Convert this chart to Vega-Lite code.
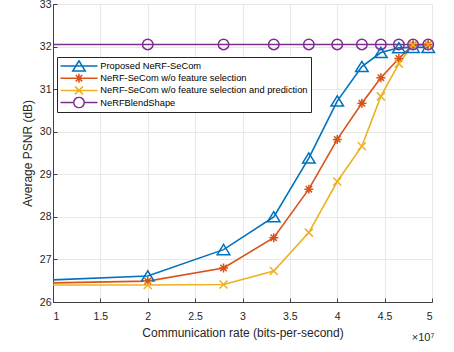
{
  "$schema": "https://vega.github.io/schema/vega-lite/v6.json",
  "autosize": {"type": "none"},
  "width": 379,
  "height": 298,
  "padding": {"left": 53, "top": 4, "right": 22, "bottom": 50},
  "background": "white",
  "config": {
    "font": "Liberation Sans",
    "view": {"stroke": "#d9d9d9", "strokeWidth": 1},
    "axis": {
      "labelFont": "Liberation Sans",
      "titleFont": "Liberation Sans",
      "labelFontSize": 10.5,
      "titleFontSize": 12,
      "titleFontWeight": "normal",
      "labelColor": "#262626",
      "titleColor": "#262626",
      "domainColor": "#404040",
      "tickColor": "#404040",
      "tickSize": -4,
      "gridColor": "#e8e8e8",
      "gridWidth": 1
    }
  },
  "title": {
    "text": "×10⁷",
    "orient": "bottom",
    "anchor": "end",
    "fontSize": 11,
    "fontWeight": "normal",
    "color": "#262626",
    "offset": -7,
    "dx": -3
  },
  "data": {
    "values": [
      {"series": "Proposed NeRF-SeCom", "rate": 10000000, "psnr": 26.52},
      {"series": "Proposed NeRF-SeCom", "rate": 20000000, "psnr": 26.61},
      {"series": "Proposed NeRF-SeCom", "rate": 28000000, "psnr": 27.23},
      {"series": "Proposed NeRF-SeCom", "rate": 33300000, "psnr": 28.0},
      {"series": "Proposed NeRF-SeCom", "rate": 37000000, "psnr": 29.38},
      {"series": "Proposed NeRF-SeCom", "rate": 40000000, "psnr": 30.72},
      {"series": "Proposed NeRF-SeCom", "rate": 42600000, "psnr": 31.53},
      {"series": "Proposed NeRF-SeCom", "rate": 44600000, "psnr": 31.86},
      {"series": "Proposed NeRF-SeCom", "rate": 46500000, "psnr": 31.97},
      {"series": "Proposed NeRF-SeCom", "rate": 48000000, "psnr": 31.98},
      {"series": "Proposed NeRF-SeCom", "rate": 49600000, "psnr": 31.98},
      {"series": "NeRF-SeCom w/o feature selection", "rate": 10000000, "psnr": 26.45},
      {"series": "NeRF-SeCom w/o feature selection", "rate": 20000000, "psnr": 26.49},
      {"series": "NeRF-SeCom w/o feature selection", "rate": 28000000, "psnr": 26.8},
      {"series": "NeRF-SeCom w/o feature selection", "rate": 33300000, "psnr": 27.51},
      {"series": "NeRF-SeCom w/o feature selection", "rate": 37000000, "psnr": 28.65},
      {"series": "NeRF-SeCom w/o feature selection", "rate": 40000000, "psnr": 29.82},
      {"series": "NeRF-SeCom w/o feature selection", "rate": 42600000, "psnr": 30.67},
      {"series": "NeRF-SeCom w/o feature selection", "rate": 44600000, "psnr": 31.27},
      {"series": "NeRF-SeCom w/o feature selection", "rate": 46500000, "psnr": 31.72},
      {"series": "NeRF-SeCom w/o feature selection", "rate": 48000000, "psnr": 32.04},
      {"series": "NeRF-SeCom w/o feature selection", "rate": 49600000, "psnr": 32.05},
      {"series": "NeRF-SeCom w/o feature selection and prediction", "rate": 10000000, "psnr": 26.4},
      {"series": "NeRF-SeCom w/o feature selection and prediction", "rate": 20000000, "psnr": 26.4},
      {"series": "NeRF-SeCom w/o feature selection and prediction", "rate": 28000000, "psnr": 26.41},
      {"series": "NeRF-SeCom w/o feature selection and prediction", "rate": 33300000, "psnr": 26.73},
      {"series": "NeRF-SeCom w/o feature selection and prediction", "rate": 37000000, "psnr": 27.63},
      {"series": "NeRF-SeCom w/o feature selection and prediction", "rate": 40000000, "psnr": 28.83},
      {"series": "NeRF-SeCom w/o feature selection and prediction", "rate": 42600000, "psnr": 29.66},
      {"series": "NeRF-SeCom w/o feature selection and prediction", "rate": 44600000, "psnr": 30.83},
      {"series": "NeRF-SeCom w/o feature selection and prediction", "rate": 46500000, "psnr": 31.6},
      {"series": "NeRF-SeCom w/o feature selection and prediction", "rate": 48000000, "psnr": 32.04},
      {"series": "NeRF-SeCom w/o feature selection and prediction", "rate": 49600000, "psnr": 32.05},
      {"series": "NeRFBlendShape", "rate": 10000000, "psnr": 32.05},
      {"series": "NeRFBlendShape", "rate": 20000000, "psnr": 32.05},
      {"series": "NeRFBlendShape", "rate": 28000000, "psnr": 32.05},
      {"series": "NeRFBlendShape", "rate": 33300000, "psnr": 32.05},
      {"series": "NeRFBlendShape", "rate": 37000000, "psnr": 32.05},
      {"series": "NeRFBlendShape", "rate": 40000000, "psnr": 32.05},
      {"series": "NeRFBlendShape", "rate": 42600000, "psnr": 32.05},
      {"series": "NeRFBlendShape", "rate": 44600000, "psnr": 32.05},
      {"series": "NeRFBlendShape", "rate": 46500000, "psnr": 32.05},
      {"series": "NeRFBlendShape", "rate": 48000000, "psnr": 32.05},
      {"series": "NeRFBlendShape", "rate": 49600000, "psnr": 32.05}
    ]
  },
  "encoding": {
    "x": {
      "field": "rate",
      "type": "quantitative",
      "scale": {"domain": [10000000, 50000000], "nice": false, "zero": false},
      "axis": {
        "title": "Communication rate (bits-per-second)",
        "values": [10000000, 15000000, 20000000, 25000000, 30000000, 35000000, 40000000, 45000000, 50000000],
        "labelExpr": "format(datum.value / 10000000, '~g')",
        "labelPadding": 13,
        "titlePadding": 6
      }
    },
    "y": {
      "field": "psnr",
      "type": "quantitative",
      "scale": {"domain": [26, 33], "nice": false, "zero": false},
      "axis": {
        "title": "Average PSNR (dB)",
        "values": [26, 27, 28, 29, 30, 31, 32, 33],
        "labelPadding": 6,
        "titlePadding": 5
      }
    }
  },
  "layer": [
    {
      "mark": {"type": "line", "strokeWidth": 1.6},
      "encoding": {
        "color": {
          "field": "series",
          "type": "nominal",
          "scale": {
            "domain": ["Proposed NeRF-SeCom", "NeRF-SeCom w/o feature selection", "NeRF-SeCom w/o feature selection and prediction", "NeRFBlendShape"],
            "range": ["#0072BD", "#D95319", "#EDB120", "#7E2F8E"]
          },
          "legend": {
            "title": null,
            "orient": "none",
            "legendX": 4,
            "legendY": 53,
            "padding": 3,
            "strokeColor": "#262626",
            "fillColor": "white",
            "cornerRadius": 0,
            "labelFont": "Liberation Sans",
            "labelFontSize": 9.3,
            "labelColor": "#000000",
            "labelLimit": 400,
            "clipHeight": 12,
            "rowPadding": 0.2,
            "symbolSize": 100,
            "symbolOffset": 13,
            "labelOffset": 15.3,
            "symbolStrokeWidth": 1.5,
            "encode": {
              "symbols": {
                "update": {
                  "shape": {"signal": "datum.value === 'Proposed NeRF-SeCom' ? 'M-3.7,0H3.7M0,-1.05L-1.25,1L1.25,1Z' : datum.value === 'NeRF-SeCom w/o feature selection' ? 'M-3.7,0H3.7M0,-0.9V0.9M-0.9,0H0.9M-0.64,-0.64L0.64,0.64M-0.64,0.64L0.64,-0.64' : datum.value === 'NeRFBlendShape' ? 'M-3.7,0H-1.05M1.05,0H3.7M1.05,0A1.05,1.05 0 1,1 -1.05,0A1.05,1.05 0 1,1 1.05,0Z' : 'M-3.7,0H3.7M-0.8,-0.8L0.8,0.8M-0.8,0.8L0.8,-0.8'"},
                  "size": {"value": 100},
                  "fill": {"value": "transparent"},
                  "stroke": {"scale": "color", "field": "value"},
                  "strokeWidth": {"value": 1.5},
                  "opacity": {"value": 1}
                }
              }
            }
          }
        }
      }
    },
    {
      "transform": [{"filter": "datum.rate > 10000000 && datum.series === 'Proposed NeRF-SeCom'"}],
      "mark": {"type": "point", "filled": false, "size": 100, "strokeWidth": 1.5, "opacity": 1, "color": "#0072BD", "shape": "M0,-1.05L-1.25,1L1.25,1Z"}
    },
    {
      "transform": [{"filter": "datum.rate > 10000000 && datum.series === 'NeRF-SeCom w/o feature selection'"}],
      "mark": {"type": "point", "filled": false, "size": 100, "strokeWidth": 1.5, "opacity": 1, "color": "#D95319", "shape": "M0,-0.9V0.9M-0.9,0H0.9M-0.64,-0.64L0.64,0.64M-0.64,0.64L0.64,-0.64"}
    },
    {
      "transform": [{"filter": "datum.rate > 10000000 && datum.series === 'NeRF-SeCom w/o feature selection and prediction'"}],
      "mark": {"type": "point", "filled": false, "size": 100, "strokeWidth": 1.5, "opacity": 1, "color": "#EDB120", "shape": "M-0.8,-0.8L0.8,0.8M-0.8,0.8L0.8,-0.8"}
    },
    {
      "transform": [{"filter": "datum.rate > 10000000 && datum.series === 'NeRFBlendShape'"}],
      "mark": {"type": "point", "filled": false, "size": 100, "strokeWidth": 1.5, "opacity": 1, "color": "#7E2F8E", "shape": "M1.05,0A1.05,1.05 0 1,1 -1.05,0A1.05,1.05 0 1,1 1.05,0Z"}
    }
  ]
}
